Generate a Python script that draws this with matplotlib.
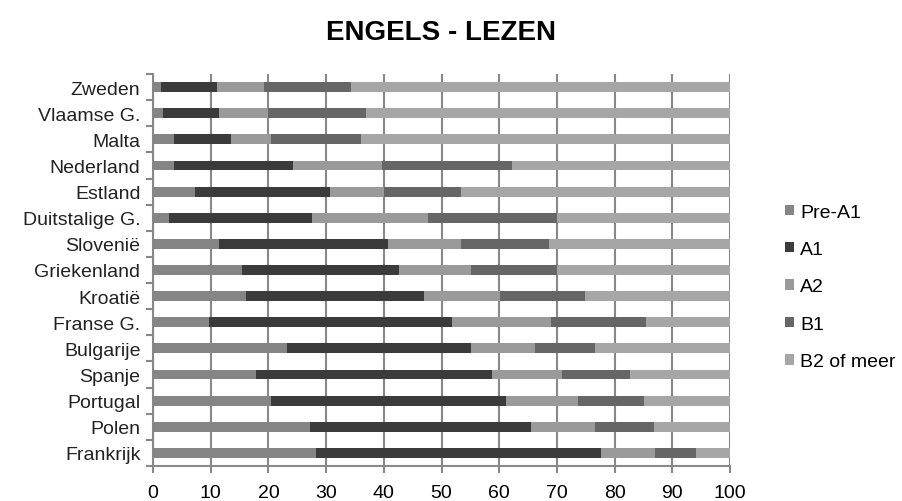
import matplotlib
matplotlib.use("Agg")
import matplotlib.pyplot as plt
from matplotlib.patches import Patch
import numpy as np

plt.rcParams["font.family"] = ["Liberation Sans", "DejaVu Sans"]

# ── Data (bottom to top) ───────────────────────────────────────────────────────

countries = ["Frankrijk", "Polen", "Portugal", "Spanje", "Bulgarije", "Franse G.",
             "Kroatië", "Griekenland", "Slovenië", "Duitstalige G.", "Estland",
             "Nederland", "Malta", "Vlaamse G.", "Zweden"]

pre_a1 = [28.2, 27.2, 20.5, 17.9, 23.3, 9.7, 16.1, 15.4, 11.4, 2.8, 7.2, 3.6, 3.6, 1.8, 1.4]
a1     = [49.4, 38.3, 40.7, 40.8, 31.8, 42.2, 30.8, 27.2, 29.3, 24.7, 23.5, 20.7, 10.0, 9.6, 9.7]
a2     = [9.4, 11.1, 12.5, 12.2, 11.1, 17.1, 13.2, 12.5, 12.7, 20.1, 9.4, 15.4, 6.8, 8.6, 8.2]
b1     = [7.1, 10.3, 11.4, 11.8, 10.4, 16.5, 14.7, 15.0, 15.2, 22.5, 13.2, 22.5, 15.7, 16.9, 15.0]

levels = ["Pre-A1", "A1", "A2", "B1", "B2 of meer"]
colors = ["#858585", "#3b3b3b", "#9a9a9a", "#666666", "#a6a6a6"]

b2 = [100 - p - a - c - d for p, a, c, d in zip(pre_a1, a1, a2, b1)]
series = [pre_a1, a1, a2, b1, b2]

# ── Plot ───────────────────────────────────────────────────────────────────────

fig = plt.figure(figsize=(9.03, 5.02), dpi=100)
ax = fig.add_axes([153 / 903, 1 - 467 / 502, 577 / 903, 392 / 502])

y = np.arange(len(countries))
left = np.zeros(len(countries))
for vals, col in zip(series, colors):
    ax.barh(y, vals, left=left, height=0.38, color=col, zorder=3)
    left += np.array(vals)

ax.set_xlim(0, 100)
ax.set_ylim(-0.5, len(countries) - 0.5)
ax.set_xticks(range(0, 101, 10))
ax.set_yticks(y)
ax.set_yticklabels(countries)
ax.set_yticks(np.arange(-0.5, len(countries), 1), minor=True)

ax.tick_params(axis="y", which="major", length=0, pad=9, labelsize=14, labelcolor="#222222")
ax.tick_params(axis="y", which="minor", length=5, width=1.5, color="#888888")
ax.tick_params(axis="x", length=5, width=1.5, color="#888888", labelsize=14, pad=8)

ax.grid(axis="x", color="#888888", linewidth=1.5, zorder=0)
for s in ["top", "right"]:
    ax.spines[s].set_visible(False)
for s in ["left", "bottom"]:
    ax.spines[s].set_color("#888888")
    ax.spines[s].set_linewidth(1.5)

fig.text(441 / 903, 1 - 33 / 502, "ENGELS - LEZEN", ha="center", va="center",
         fontsize=20, fontweight="bold")

handles = [Patch(facecolor=c, edgecolor="none") for c in colors]
fig.legend(handles, levels, loc="center left", bbox_to_anchor=(768 / 903, 1 - 288 / 502),
           frameon=False, fontsize=14, handlelength=0.45, handleheight=0.45,
           handletextpad=0.3, labelspacing=1.05)

fig.savefig("out.png", dpi=100)
